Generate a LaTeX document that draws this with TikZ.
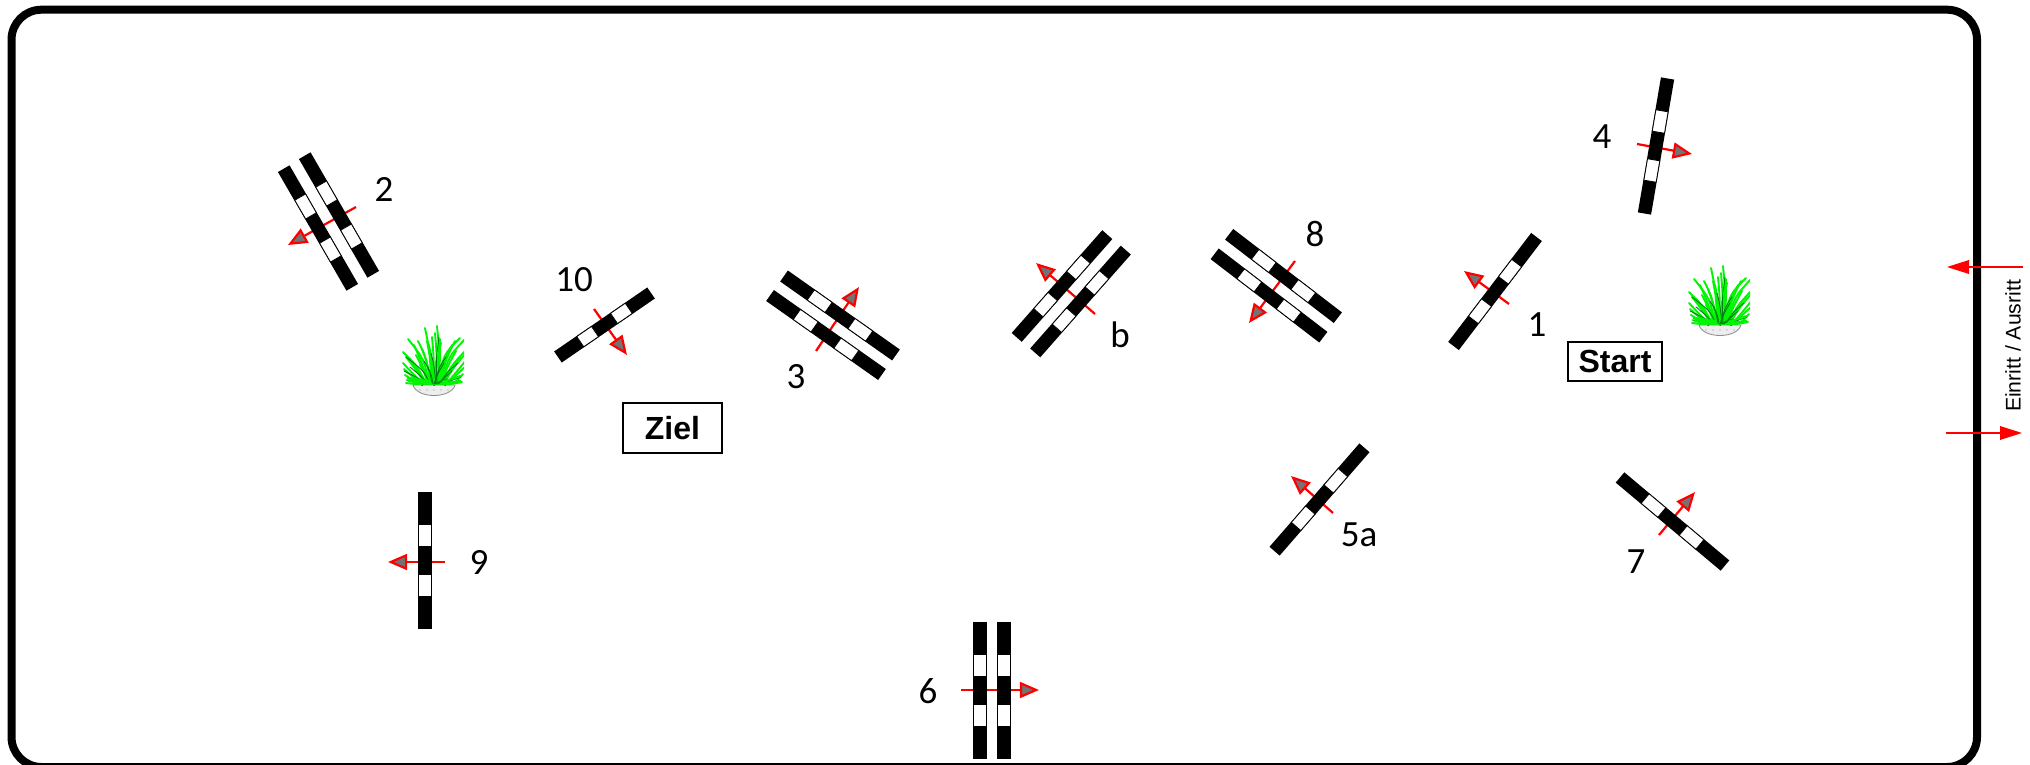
\documentclass[tikz,border=0pt]{standalone}
\usepackage{fontspec}
\setmainfont{Liberation Sans}
\newfontfamily\numfont{Carlito}
\usetikzlibrary{arrows.meta}
\definecolor{grassbright}{RGB}{0,245,0}
\definecolor{grassdark}{RGB}{0,125,20}
\tikzset{
  frame/.style={draw=black,line width=4pt,rounded corners=15pt},
  barblack/.style={fill=black,draw=none},
  barwhite/.style={fill=white,draw=black,line width=.4pt},
  flowarrow/.style={draw=red,line width=1.1pt,-{Triangle[length=9.6pt,width=8pt,fill=gray!90!black,line width=1.1pt]}},
  gatearrow/.style={draw=red,line width=.55pt,-{Triangle[length=11pt,width=7pt,fill=red,line width=0pt]}},
  numlabel/.style={inner sep=0pt,font=\numfont\fontsize{18.5}{20}\selectfont},
  signbox/.style={draw=black,line width=1pt,fill=white,inner sep=0pt,font=\bfseries\fontsize{16}{18}\selectfont},
  sidelabel/.style={inner sep=0pt,rotate=90,font=\fontsize{10.6}{12}\selectfont},
  blade/.style={draw=grassbright,line width=.95pt,line cap=round},
  darkblade/.style={draw=grassdark,line width=.45pt,line cap=round},
}
% centre x, centre y, visual angle, length
\newcommand{\hurdle}[4]{%
  \begin{scope}[shift={(#1,#2)},rotate=#3]
    \pgfmathsetmacro{\hs}{#4/137}
    \fill[barblack] ({-#4/2},-6.7) rectangle ({#4/2},6.7);
    \draw[barwhite] ({14*\hs},-6.2) rectangle ({35.7*\hs},6.2);
    \draw[barwhite] ({-14*\hs},-6.2) rectangle ({-35.7*\hs},6.2);
  \end{scope}}
% name, tail, tip
\newcommand{\flow}[3]{%
  \coordinate (#1-tail) at (#2);
  \coordinate (#1-tip) at (#3);
  \draw[flowarrow] (#1-tail) -- (#1-tip);}
\newcommand{\tuft}[2]{%
  \begin{scope}[shift={(#1,#2)}]
    \draw[draw=black!45,fill=black!7,line width=.4pt] (-21,-2) .. controls (-17,12) and (17,12) .. (21,-2) -- cycle;
    \foreach \dx in {-14,-7,0,7,14}{\fill[black!25] (\dx,3) circle (.8);}
    \foreach \dx in {-12,0,11}{\fill[red!70!black] (\dx,-2) circle (1);}
    \begin{scope}
      \clip (-32,-62) rectangle (30,4);
      \foreach \bx/\cx/\cy/\ex/\ey in {
        -2/-3/-30/-9/-59, 3/6/-30/3/-61, 0/-2/-25/-5/-42, 1/3/-25/7/-44,
        -1/0/-28/-2/-50, 2/3/-30/1/-54, -3/-3/-24/-7/-46, 4/6/-24/6/-48,
        -5/-10/-28/-26/-48, -3/-8/-30/-16/-46, -8/-16/-20/-31/-35, -10/-20/-12/-31/-24,
        -12/-20/-6/-29/-12, -4/-6/-22/-12/-38, -7/-14/-14/-24/-28, -6/-12/-24/-20/-42,
        -9/-17/-16/-28/-30, -11/-20/-9/-30/-18, -6/-10/-16/-18/-32,
        5/9/-32/26/-49, 8/14/-30/33/-50, 10/16/-20/33/-38, 12/20/-12/33/-28,
        13/21/-4/29/-13, 6/9/-22/18/-42, 9/13/-14/26/-30, 4/6/-16/12/-32,
        7/11/-26/21/-46, 10/17/-16/31/-33, 11/18/-8/31/-20, 8/12/-18/22/-36,
        -14/-20/-3/-28/-4, 12/18/-3/28/-5, -6/-8/-12/-14/-22, 7/10/-10/17/-18,
        -3/-6/-10/-10/-18, 3/5/-10/9/-20, 0/1/-12/2/-26, -2/-3/-14/-4/-28}
        {\draw[blade] (\bx,-3) .. controls (\cx,\cy) .. (\ex,\ey);}
      \foreach \bx/\cx/\cy/\ex/\ey in {
        -4/-10/-16/-28/-30, 2/0/-22/-3/-34, 6/12/-14/24/-24, -8/-14/-8/-30/-16,
        0/4/-14/10/-24, -2/-4/-16/-10/-26, 9/16/-6/27/-10, 3/2/-28/5/-50,
        -6/-12/-10/-24/-20, 1/5/-20/12/-30, 4/9/-8/18/-16, -1/-2/-10/-6/-20,
        2/6/-6/13/-8, -10/-16/-5/-28/-7}
        {\draw[darkblade] (\bx,-3) .. controls (\cx,\cy) .. (\ex,\ey);}
      \draw[draw=grassbright,line width=1.4pt] (-27,-9) -- (-3,-5);
      \draw[draw=grassbright,line width=1.2pt] (-26,-6) -- (-2,-3);
      \draw[draw=grassbright,line width=1.2pt] (27,-6) -- (6,-3);
      \draw[draw=grassbright,line width=1.1pt] (27,-11) -- (8,-5);
    \end{scope}
  \end{scope}}
\begin{document}
\begin{tikzpicture}[x=0.5pt,y=-0.5pt]
  \useasboundingbox (0,0) rectangle (2030,765);
  \fill[white] (0,0) rectangle (2030,765);
  \begin{scope}
    \clip (0,0) rectangle (2030,765);
    \draw[frame] (11.5,9.7) rectangle (1977,767);
  \end{scope}

  % direction arrows lie beneath the obstacles
  \flow{a1}{1509,304}{1464,271}
  \flow{a2}{356,207}{288,245}
  \flow{a3}{816,351}{859,287}
  \flow{a4}{1637,144}{1692,154}
  \flow{a5}{1333,513}{1291,476}
  \flow{a6}{961,690}{1039,690}
  \flow{a7}{1659,535}{1695,492}
  \flow{a8}{1295,261}{1249,323}
  \flow{a9}{445,562}{388,562}
  \flow{a10}{594,309}{627,355}
  \flow{ab}{1095,314}{1036,263}

  \hurdle{1495}{291.5}{52.7}{137}
  \hurdle{318}{228}{-60}{137}
  \hurdle{339}{215}{-60}{137}
  \hurdle{840}{315.5}{-35.2}{137}
  \hurdle{826}{335}{-35.2}{137}
  \hurdle{1656}{146}{80.3}{137}
  \hurdle{1319.5}{499.5}{49}{137}
  \hurdle{980}{690.5}{90}{137}
  \hurdle{1004}{690.5}{90}{137}
  \hurdle{1672.5}{521.5}{-40}{137}
  \hurdle{1283.5}{276}{-37.5}{137}
  \hurdle{1269}{295.5}{-37.5}{137}
  \hurdle{425}{560.5}{90}{137}
  \hurdle{604.5}{325}{34.5}{113}
  \hurdle{1062}{286}{48.6}{137}
  \hurdle{1080.5}{301.5}{48.6}{137}

  \tuft{1720}{327}
  \tuft{434}{387}

  \node[numlabel] (n1) at (1537,325) {1};
  \node[numlabel] (n2) at (384,189) {2};
  \node[numlabel] (n3) at (796,377) {3};
  \node[numlabel] (n4) at (1602,137) {4};
  \node[numlabel] (n5a) at (1359,535) {5a};
  \node[numlabel] (n6) at (928,691) {6};
  \node[numlabel] (n7) at (1636,562) {7};
  \node[numlabel] (n8) at (1315,234) {8};
  \node[numlabel] (n9) at (479,562) {9};
  \node[numlabel] (n10) at (574,280) {10};
  \node[numlabel] (nb) at (1120,335) {b};

  \node[signbox,minimum width=47pt,minimum height=19.5pt] (start) at (1615,361.5) {Start};
  \node[signbox,minimum width=49.5pt,minimum height=25pt] (ziel) at (672.5,428) {Ziel};

  \node[sidelabel] (gate) at (2013,346) {Einritt / Ausritt};
  \coordinate (inS) at (2023,267);
  \coordinate (inT) at (1947,267);
  \coordinate (outS) at (1946,433);
  \coordinate (outT) at (2022,433);
  \draw[gatearrow] (inS) -- (inT);
  \draw[gatearrow] (outS) -- (outT);
\end{tikzpicture}
\end{document}
